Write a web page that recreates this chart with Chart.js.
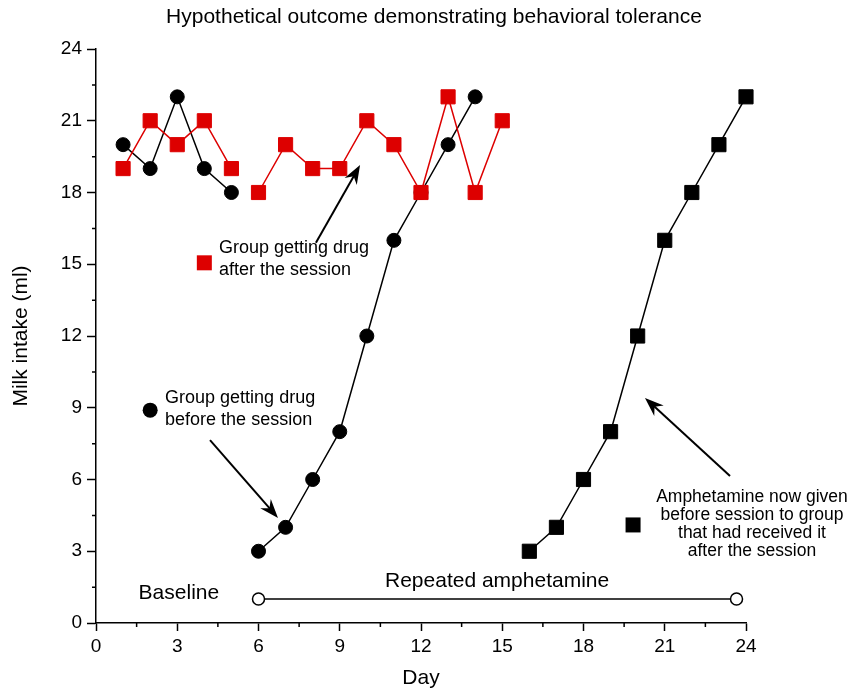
<!DOCTYPE html>
<html>
<head>
<meta charset="utf-8">
<script src="https://cdn.jsdelivr.net/npm/chart.js@4.4.1/dist/chart.umd.min.js"></script>
<style>
  html, body { margin: 0; padding: 0; background: #fff; }
</style>
</head>
<body>
<canvas id="tolChart" width="857" height="693"></canvas>
<script>
const FONT = "'Liberation Sans', Arial, Helvetica, sans-serif";
const RED = '#dd0000';
const TITLE = 'Hypothetical outcome demonstrating behavioral tolerance';

// baseline runs days 1-5, drug sessions start on day 6
const baselineEnd = 5;

const beforeDays = [1, 2, 3, 4, 5, 6, 7, 8, 9, 10, 11, 12, 13, 14];
const beforeIntake = [20, 19, 22, 19, 18, 3, 4, 6, 8, 12, 16, 18, 20, 22];

const afterDays = [1, 2, 3, 4, 5, 6, 7, 8, 9, 10, 11, 12, 13, 14, 15];
const afterIntake = [19, 21, 20, 21, 19, 18, 20, 19, 19, 21, 20, 18, 22, 18, 21];

const switchDays = [16, 17, 18, 19, 20, 21, 22, 23, 24];
const switchIntake = [3, 4, 6, 8, 12, 16, 18, 20, 22];

const phaseDays = [6, 23.65];
const phaseLevel = [1, 1];

const xTicks = [0, 3, 6, 9, 12, 15, 18, 21, 24];
const yTicks = [0, 3, 6, 9, 12, 15, 18, 21, 24];

// break the line between baseline and drug phase
function toPoints(days, values, gapAfter) {
  const pts = [];
  days.forEach((d, i) => {
    pts.push({ x: d, y: values[i] });
    if (d === gapAfter) pts.push({ x: d + 0.5, y: null });
  });
  return pts;
}

function arrow(ctx, x1, y1, x2, y2) {
  const ang = Math.atan2(y2 - y1, x2 - x1);
  const len = 19, half = 7;
  ctx.beginPath();
  ctx.moveTo(x1, y1);
  ctx.lineTo(x2 - Math.cos(ang) * 12, y2 - Math.sin(ang) * 12);
  ctx.stroke();
  ctx.save();
  ctx.translate(x2, y2);
  ctx.rotate(ang);
  ctx.beginPath();
  ctx.moveTo(0, 0);
  ctx.lineTo(-len, -half);
  ctx.lineTo(-len + 6, 0);
  ctx.lineTo(-len, half);
  ctx.closePath();
  ctx.fill();
  ctx.restore();
}

const notesPlugin = {
  id: 'notes',
  afterDraw(chart) {
    const { ctx, chartArea, scales: { x, y } } = chart;
    const px = v => x.getPixelForValue(v);
    const py = v => y.getPixelForValue(v);
    ctx.save();
    ctx.strokeStyle = '#000';
    ctx.fillStyle = '#000';
    ctx.lineWidth = 1.5;

    // heading
    ctx.textBaseline = 'middle';
    ctx.textAlign = 'center';
    ctx.font = `21px ${FONT}`;
    ctx.fillText(TITLE, 434, 17);

    // minor ticks halfway between labelled ones
    ctx.beginPath();
    for (let v = 1.5; v < 24; v += 3) {
      ctx.moveTo(px(v), chartArea.bottom);
      ctx.lineTo(px(v), chartArea.bottom + 4);
      ctx.moveTo(chartArea.left, py(v));
      ctx.lineTo(chartArea.left - 4, py(v));
    }
    ctx.stroke();

    // key symbols
    ctx.fillStyle = RED;
    ctx.fillRect(px(4) - 7.5, py(15.06) - 7.5, 15, 15);
    ctx.fillStyle = '#000';
    ctx.fillRect(px(19.83) - 7.5, py(4.1) - 7.5, 15, 15);
    ctx.beginPath();
    ctx.arc(px(2), py(8.9), 7.5, 0, Math.PI * 2);
    ctx.fill();

    // labels
    ctx.font = `18px ${FONT}`;
    ctx.textAlign = 'left';
    ctx.fillText('Group getting drug', px(4.54), py(15.68));
    ctx.fillText('after the session', px(4.54), py(15.68) + 22);
    ctx.fillText('Group getting drug', px(2.55), py(9.41));
    ctx.fillText('before the session', px(2.55), py(9.41) + 22);

    ctx.textAlign = 'center';
    ctx.font = `17.5px ${FONT}`;
    const lines = ['Amphetamine now given', 'before session to group', 'that had received it', 'after the session'];
    lines.forEach((t, i) => ctx.fillText(t, px(24.22), py(5.25) + i * 18));

    ctx.font = `21px ${FONT}`;
    ctx.fillText('Baseline', px(3.06), py(1.25));
    ctx.fillText('Repeated amphetamine', px(14.81), py(1.76));

    // pointers
    ctx.lineWidth = 2;
    arrow(ctx, px(8.12), py(15.9), px(9.75), py(19.15));
    arrow(ctx, px(4.21), py(7.65), px(6.72), py(4.39));
    arrow(ctx, px(23.41), py(6.15), px(20.27), py(9.41));
    ctx.restore();
  }
};

new Chart(document.getElementById('tolChart'), {
  type: 'scatter',
  data: {
    datasets: [
      {
        label: 'Drug after session',
        data: toPoints(afterDays, afterIntake, baselineEnd),
        showLine: true,
        borderColor: RED,
        backgroundColor: RED,
        borderWidth: 1.5,
        pointStyle: 'rect',
        pointRadius: 10,
        pointBorderWidth: 1,
        order: 0,
        clip: false
      },
      {
        label: 'Drug before session',
        data: toPoints(beforeDays, beforeIntake, baselineEnd),
        showLine: true,
        borderColor: '#000',
        backgroundColor: '#000',
        borderWidth: 1.5,
        pointStyle: 'circle',
        pointRadius: 7,
        pointBorderWidth: 1,
        order: 1,
        clip: false
      },
      {
        label: 'Switched to before session',
        data: toPoints(switchDays, switchIntake, null),
        showLine: true,
        borderColor: '#000',
        backgroundColor: '#000',
        borderWidth: 1.5,
        pointStyle: 'rect',
        pointRadius: 10,
        pointBorderWidth: 1,
        order: 1,
        clip: false
      },
      {
        label: 'Repeated amphetamine',
        data: toPoints(phaseDays, phaseLevel, null),
        showLine: true,
        borderColor: '#000',
        backgroundColor: '#fff',
        borderWidth: 1.5,
        pointStyle: 'circle',
        pointRadius: 6,
        pointBorderWidth: 1.5,
        order: 2,
        clip: false
      }
    ]
  },
  options: {
    responsive: false,
    devicePixelRatio: 1,
    animation: false,
    layout: { padding: { left: 0, right: 111, top: 49, bottom: 0 } },
    plugins: {
      legend: { display: false },
      tooltip: { enabled: false },
      title: { display: false }
    },
    scales: {
      x: {
        type: 'linear',
        min: 0,
        max: 24,
        afterBuildTicks: s => { s.ticks = xTicks.map(v => ({ value: v })); },
        afterFit: s => { s.height = 70; },
        border: { display: true, color: '#000', width: 1.5 },
        grid: { drawOnChartArea: false, drawTicks: true, tickLength: 8, color: '#000', tickWidth: 1.5 },
        ticks: { color: '#000', font: { family: FONT, size: 19 }, padding: 4, maxRotation: 0 },
        title: { display: true, text: 'Day', color: '#000', font: { family: FONT, size: 21 }, padding: { top: 0, bottom: 2 } }
      },
      y: {
        type: 'linear',
        min: 0,
        max: 24,
        afterBuildTicks: s => { s.ticks = yTicks.map(v => ({ value: v })); },
        afterFit: s => { s.width = 96; },
        border: { display: true, color: '#000', width: 1.5 },
        grid: { drawOnChartArea: false, drawTicks: true, tickLength: 9, color: '#000', tickWidth: 1.5 },
        ticks: { color: '#000', font: { family: FONT, size: 19 }, padding: 5 },
        title: { display: true, text: 'Milk intake (ml)', color: '#000', font: { family: FONT, size: 21 }, padding: { top: 9, bottom: 0 } }
      }
    }
  },
  plugins: [notesPlugin]
});
</script>
</body>
</html>
